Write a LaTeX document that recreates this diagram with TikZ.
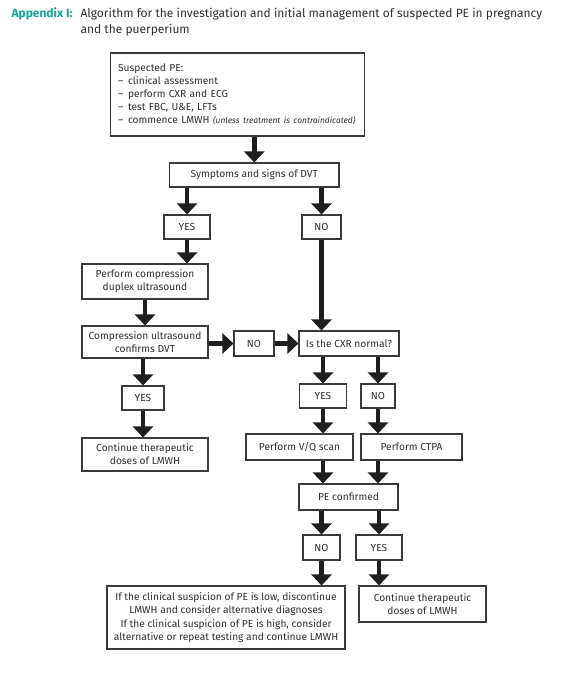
\documentclass[tikz,border=0pt]{standalone}
\usepackage{fontspec}
\setmainfont{Fira Sans}
\usetikzlibrary{arrows.meta}
\definecolor{rcogteal}{HTML}{17A398}
\definecolor{inkgray}{HTML}{2E2E2E}
\definecolor{framegray}{HTML}{3A3A3A}
\definecolor{arrowgray}{HTML}{1E1E1E}

\begin{document}
\begin{tikzpicture}[x=1pt, y=-1pt,
  every node/.style={text=inkgray, font=\fontsize{10.2}{13}\selectfont},
  flowbox/.style={draw=framegray, line width=1.1pt, align=center, inner sep=2pt},
  bigarrow/.style={draw=arrowgray, line width=4.5pt, -{Triangle[width=20pt,length=11pt]}}]
\useasboundingbox (0,0) rectangle (564,676);

% --- Title ---
\node[anchor=base west, text=rcogteal, font=\fontsize{12}{15}\selectfont\bfseries] (apx) at (8,18) {Appendix I:};
\node[anchor=base west, font=\fontsize{12}{15}\selectfont] (title) at (77,18) {Algorithm for the investigation and initial management of suspected PE in pregnancy};
\node[anchor=base west, font=\fontsize{12}{15}\selectfont] (titlecont) at (77,34) {and the puerperium};

% --- Start ---
\node[flowbox, anchor=north west, align=left, text width=238.5, inner xsep=8, minimum height=83] (susp) at (109.5,52.5)
  {Suspected PE:\\
   \makebox[10pt][l]{--}clinical assessment\\
   \makebox[10pt][l]{--}perform CXR and ECG\\
   \makebox[10pt][l]{--}test FBC, U\&E, LFTs\\
   \makebox[10pt][l]{--}commence LMWH {\fontsize{8.4}{8}\selectfont\itshape (unless treatment is contraindicated)}};
\node[flowbox, minimum width=169.5, minimum height=24] (sympt) at (254.25,175) {Symptoms and signs of DVT};
\node[flowbox, minimum width=46, minimum height=24] (yes1) at (187,227) {YES};
\node[flowbox, minimum width=39, minimum height=24] (no1) at (321.5,227) {NO};

% --- Left branch ---
\node[flowbox, minimum width=126, minimum height=35] (duplex) at (145,281.5) {Perform compression\\duplex ultrasound};
\node[flowbox, minimum width=126, minimum height=32] (conf) at (145,342) {Compression ultrasound\\confirms DVT};
\node[flowbox, minimum width=40, minimum height=25] (no2) at (254,343.5) {NO};
\node[flowbox, minimum width=42, minimum height=24] (yes2) at (143,398) {YES};
\node[flowbox, minimum width=126, minimum height=33] (cont1) at (145,454.5) {Continue therapeutic\\doses of LMWH};

% --- Right branch ---
\node[flowbox, minimum width=100, minimum height=25] (cxr) at (349,343.5) {Is the CXR normal?};
\node[flowbox, minimum width=47, minimum height=24] (yes3) at (323,396) {YES};
\node[flowbox, minimum width=34, minimum height=24] (no3) at (378,396) {NO};
\node[flowbox, minimum width=107, minimum height=26] (vq) at (299.5,447) {Perform V/Q scan};
\node[flowbox, minimum width=101, minimum height=26] (ctpa) at (411.5,447) {Perform CTPA};
\node[flowbox, minimum width=99, minimum height=26] (pec) at (348.5,497) {PE confirmed};
\node[flowbox, minimum width=37, minimum height=25] (no4) at (321.5,547.5) {NO};
\node[flowbox, minimum width=46, minimum height=25] (yes4) at (379,547.5) {YES};
\node[flowbox, minimum width=238, minimum height=63] (final) at (226,617.5)
  {If the clinical suspicion of PE is low, discontinue\\LMWH and consider alternative diagnoses\\[1pt]
   If the clinical suspicion of PE is high, consider\\alternative or repeat testing and continue LMWH};
\node[flowbox, minimum width=127, minimum height=36] (cont2) at (422.5,604) {Continue therapeutic\\doses of LMWH};

% --- Arrows ---
\draw[bigarrow] (susp.south -| sympt.north) -- (sympt.north);
\draw[bigarrow] (sympt.south -| yes1.north) -- (yes1.north);
\draw[bigarrow] (sympt.south -| no1.north) -- (no1.north);
\draw[bigarrow] (yes1.south) -- (yes1.south |- duplex.north);
\draw[bigarrow] (duplex.south) -- (conf.north);
\draw[bigarrow] (no1.south) -- (no1.south |- cxr.north);
\draw[bigarrow] (conf.east |- no2.west) -- (no2.west);
\draw[bigarrow] (no2.east) -- (cxr.west);
\draw[bigarrow] (conf.south -| yes2.north) -- (yes2.north);
\draw[bigarrow] (yes2.south) -- (yes2.south |- cont1.north);
\draw[bigarrow] (cxr.south -| yes3.north) -- (yes3.north);
\draw[bigarrow] (cxr.south -| no3.north) -- (no3.north);
\draw[bigarrow] (yes3.south) -- (yes3.south |- vq.north);
\draw[bigarrow] (no3.south) -- (no3.south |- ctpa.north);
\draw[bigarrow] (vq.south -| yes3.south) -- (pec.north -| yes3.south);
\draw[bigarrow] (ctpa.south -| no3.south) -- (pec.north -| no3.south);
\draw[bigarrow] (pec.south -| no4.north) -- (no4.north);
\draw[bigarrow] (pec.south -| yes4.north) -- (yes4.north);
\draw[bigarrow] (no4.south) -- (no4.south |- final.north);
\draw[bigarrow] (yes4.south) -- (yes4.south |- cont2.north);
\end{tikzpicture}
\end{document}
